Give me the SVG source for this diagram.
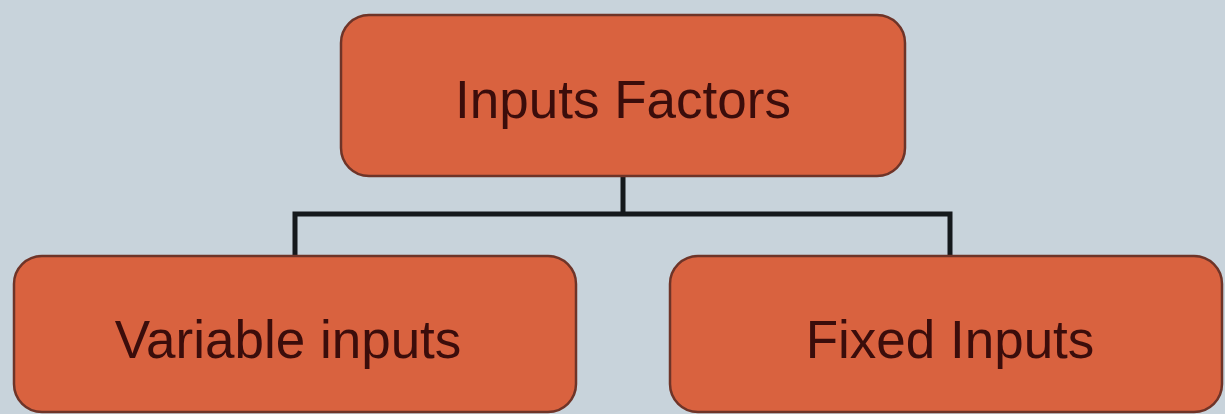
<svg xmlns="http://www.w3.org/2000/svg" width="1225" height="414" viewBox="0 0 1225 414">
  <style>
    .box { fill: #d9623f; stroke: #6e3428; stroke-width: 2.5; }
    .label { font-family: "Liberation Sans", Arial, sans-serif; font-size: 53px; fill: #3b0d0b; text-anchor: middle; }
    .link { fill: none; stroke: #15191c; stroke-width: 5; }
  </style>
  <rect width="1225" height="414" fill="#c8d3db"/>

  <g id="connectors">
    <path class="link" d="M623 176 V214"/>
    <path class="link" d="M295 256 V214 H950 V256"/>
  </g>

  <g id="node-inputs-factors">
    <rect class="box" x="341" y="15" width="564" height="161" rx="28"/>
    <text class="label" x="623" y="118">Inputs Factors</text>
  </g>

  <g id="node-variable-inputs">
    <rect class="box" x="14" y="256" width="562" height="156" rx="28"/>
    <text class="label" x="288" y="358">Variable inputs</text>
  </g>

  <g id="node-fixed-inputs">
    <rect class="box" x="670" y="256" width="552" height="156" rx="28"/>
    <text class="label" x="950" y="358">Fixed Inputs</text>
  </g>
</svg>
